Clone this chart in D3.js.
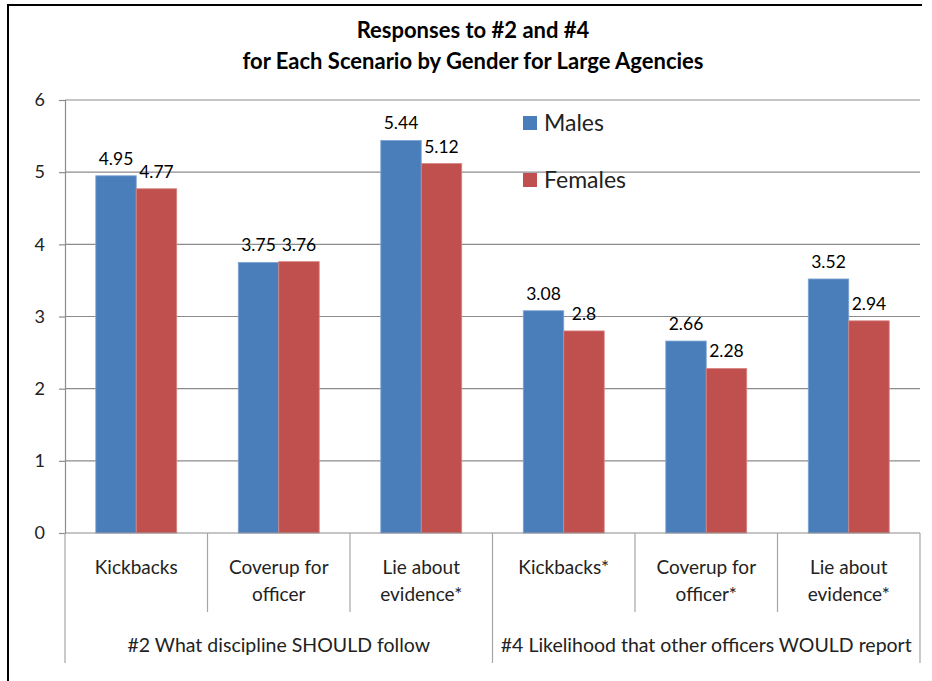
<!DOCTYPE html>
<html>
<head>
<meta charset="utf-8">
<script src="https://cdn.jsdelivr.net/npm/d3@7"></script>
<style>
  body { margin: 0; background: #fff; }
  svg { display: block; font-family: Lato, "Open Sans", sans-serif; }
</style>
</head>
<body>
<div id="chart"></div>
<script>
// chart data
const titleLines = ["Responses to #2 and #4", "for Each Scenario by Gender for Large Agencies"];
const categories = [
    ["Kickbacks"],
    ["Coverup for", "officer"],
    ["Lie about", "evidence*"],
    ["Kickbacks*"],
    ["Coverup for", "officer*"],
    ["Lie about", "evidence*"]
];
const groups = ["#2 What discipline SHOULD follow", "#4 Likelihood that other officers WOULD report"];
const seriesNames = ["Males", "Females"];
const males = [4.95, 3.75, 5.44, 3.08, 2.66, 3.52];
const females = [4.77, 3.76, 5.12, 2.8, 2.28, 2.94];
const yTicks = [0, 1, 2, 3, 4, 5, 6];

const colors = { Males: "#4a7ebb", Females: "#c0504d" };

const width = 932;
const height = 681;
const margin = { top: 100, right: 12, bottom: 148, left: 65 };
const plotW = width - margin.left - margin.right;
const plotH = height - margin.top - margin.bottom;

const svg = d3.select("#chart").append("svg")
    .attr("width", width)
    .attr("height", height);

// outer frame (left and top edges visible)
svg.append("path")
    .attr("d", "M8,690 V5 H922")
    .attr("fill", "none")
    .attr("stroke", "#000")
    .attr("stroke-width", 2);

// title
svg.append("g").selectAll("text")
    .data(titleLines)
    .enter().append("text")
    .attr("x", 473)
    .attr("y", function (d, i) { return 38 + i * 31; })
    .style("text-anchor", "middle")
    .style("font-weight", "bold")
    .style("font-size", "22px")
    .attr("fill", "#000")
    .text(function (d) { return d; });

const g = svg.append("g")
    .attr("transform", "translate(" + margin.left + "," + margin.top + ")");

const catIdx = d3.range(categories.length);
const x = d3.scaleBand().domain(catIdx).range([0, plotW]);
const bw = x.bandwidth();
const xs = d3.scaleBand().domain(seriesNames).range([bw * 0.216, bw * 0.784]);
const y = d3.scaleLinear().domain([0, 6]).range([plotH, 0]);

// gridlines
g.append("g").selectAll("line")
    .data(yTicks.filter(function (d) { return d > 0; }))
    .enter().append("line")
    .attr("x1", 0).attr("x2", plotW)
    .attr("y1", function (d) { return y(d); })
    .attr("y2", function (d) { return y(d); })
    .attr("stroke", "#8c8c8c")
    .attr("stroke-width", 1.2);

// y axis
const yAxis = g.append("g")
    .call(d3.axisLeft(y).tickValues(yTicks).tickSize(6).tickPadding(14).tickFormat(d3.format("d")));
yAxis.select(".domain").attr("stroke", "#8c8c8c").attr("stroke-width", 1.2);
yAxis.selectAll(".tick line").attr("stroke", "#8c8c8c").attr("stroke-width", 1.2);
yAxis.selectAll(".tick text")
    .style("font-size", "18px")
    .style("font-family", "Lato, sans-serif")
    .attr("fill", "#222");

// bars
const rows = catIdx.map(function (i) {
    return [{ s: "Males", v: males[i] }, { s: "Females", v: females[i] }];
});

const cat = g.append("g").selectAll("g")
    .data(rows)
    .enter().append("g")
    .attr("transform", function (d, i) { return "translate(" + x(i) + ",0)"; });

cat.selectAll("rect")
    .data(function (d) { return d; })
    .enter().append("rect")
    .attr("x", function (d) { return xs(d.s); })
    .attr("width", xs.bandwidth())
    .attr("y", function (d) { return y(d.v); })
    .attr("height", function (d) { return plotH - y(d.v); })
    .attr("fill", function (d) { return colors[d.s]; })
    .attr("stroke", function (d) { return d.s === "Males" ? "#7fa4d6" : "#d88583"; })
    .attr("stroke-width", 0.8);

cat.selectAll("text.val")
    .data(function (d) { return d; })
    .enter().append("text")
    .attr("class", "val")
    .attr("x", function (d) { return xs(d.s) + xs.bandwidth() / 2; })
    .attr("y", function (d) { return y(d.v) - 11; })
    .style("text-anchor", "middle")
    .style("font-size", "17.5px")
    .attr("fill", "#000")
    .text(function (d) { return d.v; });

// x baseline
g.append("line")
    .attr("x1", 0).attr("x2", plotW)
    .attr("y1", plotH).attr("y2", plotH)
    .attr("stroke", "#8c8c8c")
    .attr("stroke-width", 1.2);

// category separators
g.append("g").selectAll("line")
    .data(d3.range(categories.length + 1))
    .enter().append("line")
    .attr("x1", function (i) { return i * bw; })
    .attr("x2", function (i) { return i * bw; })
    .attr("y1", plotH)
    .attr("y2", function (i) { return i % 3 === 0 ? plotH + 130 : plotH + 79; })
    .attr("stroke", "#a6a6a6")
    .attr("stroke-width", 1.2);

// category labels
const catLabel = g.append("g").selectAll("text")
    .data(categories)
    .enter().append("text")
    .attr("x", function (d, i) { return x(i) + bw / 2; })
    .attr("y", plotH + 41)
    .style("text-anchor", "middle")
    .style("font-size", "19px")
    .attr("fill", "#222");

catLabel.selectAll("tspan")
    .data(function (d) { return d; })
    .enter().append("tspan")
    .attr("x", function () { return d3.select(this.parentNode).attr("x"); })
    .attr("dy", function (d, i) { return i === 0 ? 0 : 27; })
    .text(function (d) { return d; });

// group labels
g.append("g").selectAll("text")
    .data(groups)
    .enter().append("text")
    .attr("x", function (d, i) { return (i * 3 + 1.5) * bw; })
    .attr("y", plotH + 119)
    .style("text-anchor", "middle")
    .style("font-size", "19.5px")
    .attr("fill", "#222")
    .text(function (d) { return d; });

// legend
const legend = svg.append("g").selectAll("g")
    .data(seriesNames)
    .enter().append("g")
    .attr("transform", function (d, i) { return "translate(523," + (116 + i * 57) + ")"; });

legend.append("rect")
    .attr("width", 14)
    .attr("height", 14)
    .attr("fill", function (d) { return colors[d]; });

legend.append("text")
    .attr("x", 21)
    .attr("y", 15)
    .style("font-size", "23px")
    .attr("fill", "#222")
    .text(function (d) { return d; });
</script>
</body>
</html>
